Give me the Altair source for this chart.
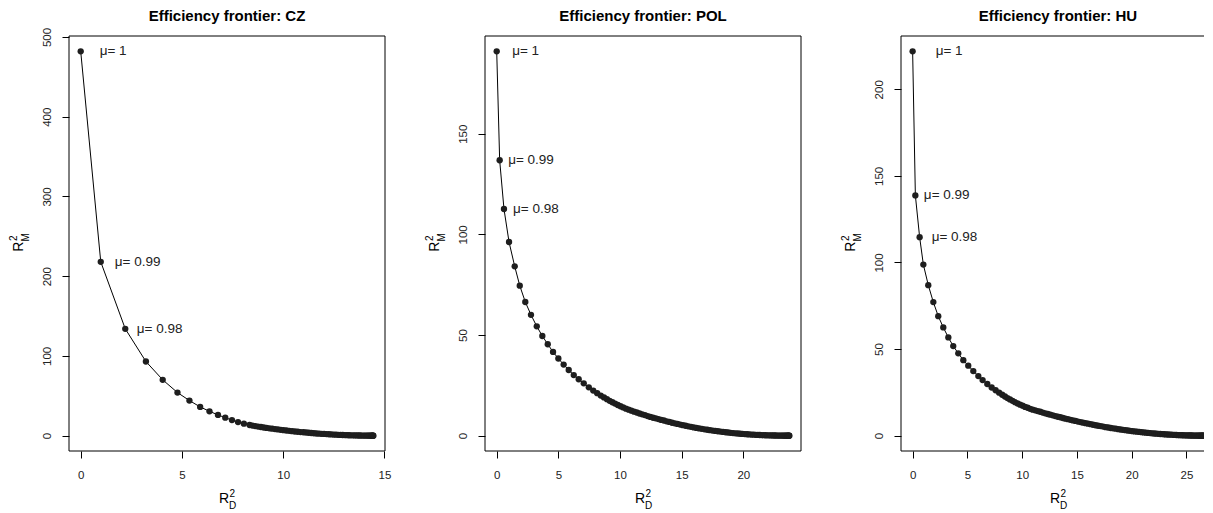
import altair as alt
import pandas as pd

FONT = "Liberation Sans"

# ---------------- data ----------------
titles = ["Efficiency frontier: CZ", "Efficiency frontier: POL", "Efficiency frontier: HU"]
mu_labels = ["\u03bc= 1", "\u03bc= 0.99", "\u03bc= 0.98"]

cz_x = [0.00, 0.99, 2.20, 3.22, 4.05, 4.78, 5.37, 5.90, 6.36, 6.78, 7.14, 7.47, 7.77, 8.06, 8.34,
        8.48, 8.62, 8.76, 8.90, 9.04, 9.18, 9.32, 9.46, 9.60, 9.74,
        9.88, 10.02, 10.16, 10.30, 10.44, 10.58, 10.72, 10.86, 11.00, 11.13,
        11.26, 11.39, 11.52, 11.65, 11.78, 11.90, 12.02, 12.14, 12.26, 12.38,
        12.50, 12.61, 12.72, 12.83, 12.94, 13.05, 13.15, 13.25, 13.35, 13.45,
        13.54, 13.63, 13.72, 13.80, 13.88, 13.96, 14.03, 14.10, 14.16, 14.22,
        14.27, 14.32, 14.36, 14.39, 14.42, 14.44, 14.45]
cz_y = [482, 218, 134, 93, 70, 54, 44, 36, 30.5, 26, 22.5, 19.5, 17, 15.0, 13.3,
        12.6, 12.0, 11.3, 10.8, 10.2, 9.7, 9.2, 8.7, 8.2, 7.8,
        7.3, 6.9, 6.4, 6.0, 5.6, 5.2, 4.9, 4.5, 4.2, 3.9,
        3.6, 3.3, 3.0, 2.7, 2.5, 2.3, 2.1, 1.9, 1.7, 1.5,
        1.3, 1.2, 1.05, 0.92, 0.80, 0.69, 0.59, 0.50, 0.42, 0.35,
        0.29, 0.24, 0.19, 0.15, 0.11, 0.08, 0.06, 0.04, 0.03, 0.02,
        0.01, 0.01, 0, 0, 0, 0, 0]

pol_x = [0.00, 0.24, 0.59, 1.00, 1.46, 1.87, 2.32, 2.78, 3.25, 3.70, 4.14, 4.57, 5.00, 5.43,
         5.84, 6.25, 6.65, 7.06, 7.47,
         7.83, 8.15, 8.44, 8.70, 8.94, 9.16, 9.38, 9.60, 9.82, 10.04,
         10.26, 10.48, 10.70, 10.92, 11.14, 11.36, 11.58, 11.80, 12.02, 12.24,
         12.46, 12.68, 12.90, 13.12, 13.34, 13.56, 13.78, 14.00, 14.22, 14.44,
         14.66, 14.88, 15.10, 15.32, 15.54, 15.76, 15.98, 16.20, 16.42, 16.64,
         16.86, 17.08, 17.30, 17.52, 17.73, 17.94, 18.15, 18.36, 18.57, 18.77,
         18.97, 19.17, 19.37, 19.56, 19.75, 19.94, 20.13, 20.31, 20.49, 20.67,
         20.84, 21.01, 21.18, 21.34, 21.50, 21.66, 21.81, 21.96, 22.10, 22.24,
         22.37, 22.50, 22.62, 22.74, 22.85, 22.96, 23.06, 23.16, 23.25, 23.34,
         23.42, 23.49, 23.56, 23.62, 23.67, 23.71, 23.73]
pol_y = [190.9, 136.8, 112.6, 96.2, 84.1, 74.5, 66.4, 60.0, 54.3, 49.5, 45.4, 41.6, 38.3, 35.3,
         32.6, 30.1, 28.0, 26.0, 24.0,
         22.4, 21.1, 19.9, 19.0, 18.1, 17.3, 16.6, 15.9, 15.2, 14.6,
         14.0, 13.4, 12.9, 12.4, 11.9, 11.5, 11.0, 10.6, 10.2, 9.7,
         9.3, 8.9, 8.6, 8.2, 7.8, 7.5, 7.1, 6.8, 6.4, 6.1,
         5.8, 5.5, 5.2, 4.9, 4.6, 4.36, 4.10, 3.85, 3.60, 3.37,
         3.14, 2.93, 2.72, 2.52, 2.33, 2.16, 1.99, 1.83, 1.68, 1.54,
         1.40, 1.28, 1.16, 1.05, 0.95, 0.85, 0.76, 0.68, 0.60, 0.53,
         0.47, 0.41, 0.36, 0.31, 0.26, 0.22, 0.19, 0.16, 0.13, 0.11,
         0.09, 0.07, 0.06, 0.04, 0.03, 0.03, 0.02, 0.01, 0.01, 0,
         0, 0, 0, 0, 0, 0, 0]

hu_x = [0.00, 0.25, 0.64, 0.98, 1.43, 1.89, 2.34, 2.80, 3.26, 3.71, 4.17, 4.63, 5.08, 5.54,
        6.00, 6.39, 6.82,
        7.22, 7.58, 7.90, 8.18, 8.43, 8.66, 8.89, 9.12, 9.35, 9.58,
        9.81, 10.04, 10.27, 10.50, 10.73, 10.96, 11.19, 11.42, 11.65, 11.88,
        12.11, 12.34, 12.57, 12.80, 13.03, 13.26, 13.49, 13.72, 13.95, 14.18,
        14.41, 14.64, 14.87, 15.10, 15.33, 15.56, 15.79, 16.02, 16.25, 16.48,
        16.71, 16.94, 17.17, 17.40, 17.63, 17.86, 18.09, 18.32, 18.55, 18.77,
        18.99, 19.21, 19.43, 19.65, 19.86, 20.07, 20.28, 20.49, 20.70, 20.90,
        21.10, 21.30, 21.50, 21.69, 21.88, 22.07, 22.26, 22.44, 22.62, 22.80,
        22.97, 23.14, 23.31, 23.47, 23.63, 23.79, 23.94, 24.09, 24.24, 24.38,
        24.52, 24.66, 24.79, 24.92, 25.05, 25.17, 25.29, 25.40, 25.51, 25.62,
        25.72, 25.82, 25.91, 26.00, 26.08, 26.16, 26.23, 26.30, 26.36, 26.42,
        26.47, 26.51, 26.55]
hu_y = [221.9, 138.7, 114.6, 98.8, 86.9, 77.1, 69.0, 62.5, 56.7, 51.7, 47.5, 43.6, 40.4, 37.3,
        34.4, 32.1, 29.8,
        27.8, 26.2, 24.8, 23.6, 22.6, 21.7, 20.9, 20.1, 19.3, 18.6,
        17.9, 17.3, 16.6, 16.1, 15.5, 15.0, 14.6, 14.2, 13.8, 13.3,
        12.9, 12.5, 12.1, 11.7, 11.3, 10.9, 10.6, 10.2, 9.8, 9.5,
        9.1, 8.8, 8.5, 8.1, 7.8, 7.5, 7.2, 6.9, 6.6, 6.3,
        6.0, 5.7, 5.5, 5.2, 4.9, 4.7, 4.4, 4.2, 4.0, 3.75,
        3.54, 3.34, 3.14, 2.95, 2.77, 2.60, 2.44, 2.28, 2.12, 1.98,
        1.84, 1.71, 1.58, 1.46, 1.35, 1.24, 1.14, 1.05, 0.96, 0.87,
        0.79, 0.72, 0.65, 0.59, 0.53, 0.47, 0.42, 0.38, 0.33, 0.29,
        0.26, 0.22, 0.19, 0.16, 0.14, 0.12, 0.10, 0.08, 0.07, 0.05,
        0.04, 0.03, 0.03, 0.02, 0.01, 0.01, 0.01, 0, 0, 0,
        0, 0, 0]

cz_xticks = [0, 5, 10, 15]
cz_yticks = [0, 100, 200, 300, 400, 500]
pol_xticks = [0, 5, 10, 15, 20]
pol_yticks = [0, 50, 100, 150]
hu_xticks = [0, 5, 10, 15, 20, 25]
hu_yticks = [0, 50, 100, 150, 200]

# ---------------- styling ----------------
H = 415
INK = "#1e1e1e"


def pad_domain(vals):
    lo, hi = min(vals), max(vals)
    r = hi - lo
    return [lo - 0.04 * r, hi + 0.04 * r]


def txt(text, size, x, y, align, angle=0, weight="normal", baseline="alphabetic"):
    d = pd.DataFrame({"t": [text]})
    kw = dict(font=FONT, fontSize=size, align=align, baseline=baseline,
              color="#000", fontWeight=weight)
    if angle:
        kw["angle"] = angle
    return alt.Chart(d).mark_text(**kw).encode(
        x=alt.value(x), y=alt.value(y), text="t:N")


def frame_rule(**enc):
    d = pd.DataFrame({"k": [0]})
    return alt.Chart(d).mark_rule(color="#000", strokeWidth=1).encode(**enc)


def panel(xs, ys, title, xticks, yticks, dxs, W, x_hi=None, cut=False):
    df = pd.DataFrame({"x": xs, "y": ys})
    xdom = pad_domain(xs)
    if x_hi is not None:
        xdom[1] = x_hi  # panel is cut at the page edge, as in the reference
    xsc = alt.Scale(domain=xdom, nice=False, zero=False)
    ysc = alt.Scale(domain=pad_domain(ys), nice=False, zero=False)
    common = dict(title=None, grid=False, domain=False, tickSize=7, tickColor="#000",
                  tickWidth=1, labelFont=FONT, labelFontSize=11.5, labelColor="#222",
                  labelFlush=False, labelOverlap=False)
    xenc = alt.X("x:Q", scale=xsc, axis=alt.Axis(values=xticks, labelPadding=11, **common))
    yenc = alt.Y("y:Q", scale=ysc,
                 axis=alt.Axis(values=yticks, labelAngle=270, labelPadding=9.5, **common))
    line = alt.Chart(df).mark_line(color="#000", strokeWidth=1, clip=cut).encode(x=xenc, y=yenc)
    pts = alt.Chart(df).mark_circle(size=40, color=INK, opacity=1, clip=cut).encode(x=xenc, y=yenc)
    layers = [line, pts]
    for i in range(3):
        ldf = pd.DataFrame({"x": [xs[i]], "y": [ys[i]], "t": [mu_labels[i]]})
        layers.append(
            alt.Chart(ldf).mark_text(align="left", baseline="middle", dx=dxs[i], font=FONT,
                                     fontSize=13.5, color="#222")
            .encode(x=xenc, y=yenc, text="t:N"))
    # panel title
    tc = W / 2 if x_hi is None else 157
    layers.append(txt(title, 15, tc, -15.5, "center", weight="bold"))
    # x axis title  R^2_D
    c = tc
    layers.append(txt("R", 14, c + 2, H + 52, "right"))
    layers.append(txt("2", 10, c + 2.5, H + 46, "left"))
    layers.append(txt("D", 10, c + 2, H + 58, "left"))
    # y axis title  R^2_M (rotated)
    cy = H / 2
    layers.append(txt("R", 14, -46, cy - 2, "right", angle=270))
    layers.append(txt("2", 10, -52, cy - 2.5, "left", angle=270))
    layers.append(txt("M", 10, -40, cy - 2, "left", angle=270))
    # plot box (right edge of the last panel lies beyond the page edge)
    layers.append(frame_rule(x=alt.value(0), y=alt.value(0), y2=alt.value(H)))
    layers.append(frame_rule(x=alt.value(0), x2=alt.value(W), y=alt.value(0)))
    layers.append(frame_rule(x=alt.value(0), x2=alt.value(W), y=alt.value(H)))
    if not cut:
        layers.append(frame_rule(x=alt.value(W), y=alt.value(0), y2=alt.value(H)))
    return alt.layer(*layers).properties(width=W, height=H)


cz = panel(cz_x, cz_y, titles[0], cz_xticks, cz_yticks, [19, 14, 11.5], 316)
pol = panel(pol_x, pol_y, titles[1], pol_xticks, pol_yticks, [15.5, 8.5, 9], 316)
hu = panel(hu_x, hu_y, titles[2], hu_xticks, hu_yticks, [23, 8.5, 12], 303,
           x_hi=26.61, cut=True)

chart = (
    alt.hconcat(cz, pol, hu, spacing=100, bounds="flush")
    .properties(padding={"left": 1, "top": 0, "right": 0, "bottom": 0}, background="white")
    .configure_view(stroke="transparent", strokeWidth=0)
)

chart.save("out.html", embed_options={"renderer": "svg", "actions": False})
